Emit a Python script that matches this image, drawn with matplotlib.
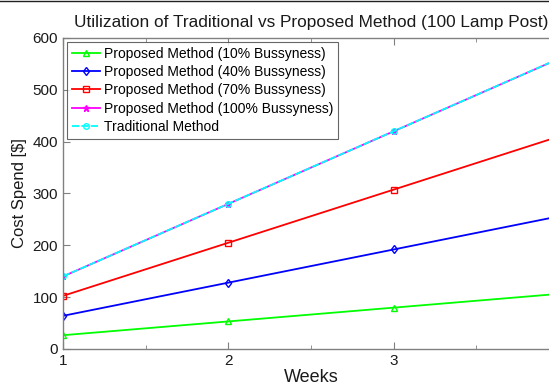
import matplotlib.pyplot as plt
import numpy as np
from matplotlib.ticker import MultipleLocator
from matplotlib.lines import Line2D

plt.rcParams['font.family'] = ['Liberation Sans', 'DejaVu Sans']

weeks = [1, 2, 3, 4]
week_labels = ['1', '2', '3', '']
busy10 = [26.6, 53.2, 79.8, 106.4]
busy40 = [64, 128, 192, 256]
busy70 = [102.5, 205, 307.5, 410]
busy100 = [140, 280, 420, 560]
traditional = [140, 280, 420, 560]

labels = ['Proposed Method (10% Bussyness)', 'Proposed Method (40% Bussyness)',
          'Proposed Method (70% Bussyness)', 'Proposed Method (100% Bussyness)',
          'Traditional Method']

fig = plt.figure(figsize=(5.49, 3.85), dpi=100)
# axes run off the right edge (the reference is cropped there)
ax = fig.add_axes([63/549, 1 - 349/385, 496/549, 311/385])

ax.plot(weeks, busy10, color='#00ff00', lw=1.3, marker='^', ms=4.5, mfc='none', label=labels[0])
ax.plot(weeks, busy40, color='#0000ff', lw=1.3, marker='d', ms=4.5, mfc='none', label=labels[1])
ax.plot(weeks, busy70, color='#ff0000', lw=1.3, marker='s', ms=4.5, mfc='none', label=labels[2])
ax.plot(weeks, busy100, color='#ff00ff', lw=1.3, marker='*', ms=5, label=labels[3])
ax.plot(weeks, traditional, color='#00ffff', lw=1.3, ls=(0, (4, 1.2)), marker='o', ms=4, mfc='none',
        label=labels[4])

ax.set_xlim(1, 4)
ax.set_ylim(0, 600)
ax.set_xticks(weeks)
ax.set_xticklabels(week_labels)
ax.xaxis.set_minor_locator(MultipleLocator(0.5))
ax.yaxis.set_major_locator(MultipleLocator(100))

for s in ax.spines.values():
    s.set_color('#808080')
    s.set_linewidth(1.0)
ax.tick_params(which='both', direction='in', top=True, right=True, colors='#808080',
               labelcolor='#1a1a1a', labelsize=11)
ax.tick_params(which='major', length=5)
ax.tick_params(which='minor', length=3)

ax.set_xlabel('Weeks', fontsize=13, color='#1a1a1a', labelpad=1)
ax.set_ylabel('Cost Spend [$]', fontsize=12, color='#1a1a1a', labelpad=4)
ax.set_title('Utilization of Traditional vs Proposed Method (100 Lamp Post)',
             fontsize=12.4, color='#1a1a1a', pad=8)

leg = ax.legend(loc='upper left', fontsize=10, frameon=True, fancybox=False,
                borderaxespad=0.3, handlelength=2.0, handletextpad=0.3,
                labelspacing=0.3, borderpad=0.35)
leg.get_frame().set_edgecolor('#404040')
leg.get_frame().set_linewidth(0.8)

# thin dark border line along the top of the screenshot
fig.add_artist(Line2D([0, 1], [0.998, 0.998], transform=fig.transFigure, color='#202020', lw=1))

plt.savefig('out.png', dpi=100)
